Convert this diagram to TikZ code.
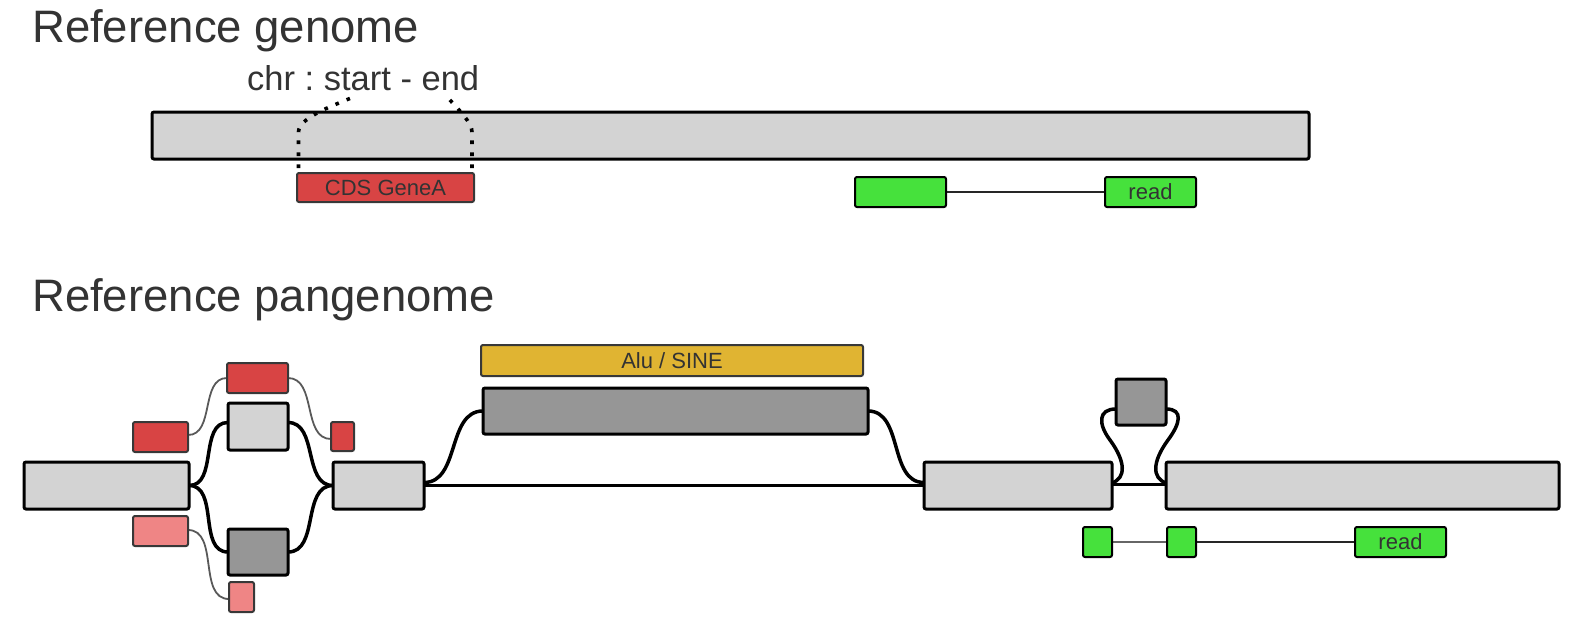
\documentclass[tikz,border=0pt]{standalone}
\usepackage{fontspec}
\setmainfont{Liberation Sans}
\usetikzlibrary{calc}
\definecolor{lgray}{HTML}{D3D3D3}
\definecolor{dgray}{HTML}{969696}
\definecolor{redc}{HTML}{D84444}
\definecolor{pinkc}{HTML}{EF8585}
\definecolor{greenc}{HTML}{46E13C}
\definecolor{goldc}{HTML}{E0B432}
\definecolor{txt}{HTML}{333333}
\pgfdeclarelayer{bottom}
\pgfdeclarelayer{background}
\pgfsetlayers{bottom,background,main}
\frenchspacing
\begin{document}
\begin{tikzpicture}[x=1pt,y=-1pt,
  bx/.style={rectangle, rounded corners=2pt, inner sep=0pt, outer sep=0pt, text=txt, font=\fontsize{22}{26}\selectfont},
  sz/.style 2 args={minimum width=#1, minimum height=#2},
  seg/.style={bx, draw=black, line width=3pt, fill=lgray},
  dseg/.style={seg, fill=dgray},
  ann/.style={bx, draw=black!78, line width=2pt},
  redbox/.style={ann, fill=redc},
  pinkbox/.style={ann, fill=pinkc},
  alubox/.style={ann, fill=goldc},
  greenbox/.style={bx, draw=black, line width=2pt, fill=greenc},
  title/.style={anchor=base west, inner sep=0pt, text=txt, font=\fontsize{45.5}{54}\selectfont},
  conn/.style={line width=3.5pt, draw=black},
  thinc/.style={line width=1.8pt, draw=black!65},
  linec/.style={line width=2pt, draw=black!85},
  dotc/.style={line width=3.6pt, draw=black, dash pattern=on 3.6pt off 8.4pt, dash phase=7pt}
]
\begin{pgfonlayer}{bottom}
\fill[white] (0,0) rectangle (1591,635);
\end{pgfonlayer}
\useasboundingbox (0,0) rectangle (1591,635);

% ---------- Reference genome ----------
\node[title] (t1) at (32,42.6) {Reference genome};
\node[title, font=\fontsize{34.5}{40}\selectfont] (loc) at (247,90) {chr : start - end};

\node[seg, sz={1157pt}{47pt}] (bar) at (730.5,135.5) {};
\node[redbox, sz={177pt}{29pt}] (cds) at (385.5,187.5) {CDS GeneA};
\node[greenbox, sz={91pt}{30pt}] (rd1) at (900.5,192) {};
\node[greenbox, sz={91pt}{30pt}] (rd2) at (1150.5,192) {read};

\coordinate (ds) at (351,98);
\coordinate (de) at (449,99);
\draw[dotc] ([xshift=1.5pt]cds.north west) -- ++(0,-41) .. controls +(0,-14) and +(-19,8) .. (ds);
\draw[dotc] ([xshift=-2pt]cds.north east) -- ++(0,-41) .. controls +(0,-9) and +(11,12) .. (de);

% ---------- Reference pangenome ----------
\node[title] (t2) at (32,311.5) {Reference pangenome};

\node[alubox, sz={382pt}{31pt}] (alu) at (672,360.5) {Alu / SINE};
\node[dseg, sz={385pt}{46pt}] (dbig) at (675.5,411) {};
\node[seg, sz={165pt}{47pt}] (lb) at (106.5,485.5) {};
\node[seg, sz={91pt}{47pt}] (s2) at (378.5,485.5) {};
\node[seg, sz={188pt}{47pt}] (r1) at (1018,485.5) {};
\node[seg, sz={393pt}{47pt}] (r2) at (1362.5,485.5) {};
\node[dseg, sz={50pt}{46pt}] (lp) at (1141,402) {};
\node[seg, sz={60pt}{47pt}] (lg) at (258,426.5) {};
\node[dseg, sz={60pt}{46pt}] (dg) at (258,552) {};

\node[redbox, sz={55pt}{30pt}] (rl) at (160.5,437) {};
\node[redbox, sz={61pt}{30pt}] (tr) at (257.5,378) {};
\node[redbox, sz={23pt}{29pt}] (sr) at (342.5,436.5) {};
\node[pinkbox, sz={55pt}{30pt}] (pl) at (160.5,531) {};
\node[pinkbox, sz={25pt}{30pt}] (pb) at (241.5,597) {};

\node[greenbox, sz={29pt}{30pt}] (g1) at (1097.5,542) {};
\node[greenbox, sz={29pt}{30pt}] (g2) at (1181.5,542) {};
\node[greenbox, sz={91pt}{30pt}] (rd3) at (1400.5,542) {read};

\coordinate (lm) at (1110,440);
\coordinate (rm) at (1168,440);

\begin{pgfonlayer}{background}
\draw[conn] (lb.east) to[out=0,in=180] ([yshift=4pt]lg.west);
\draw[conn] (lb.east) to[out=0,in=180] (dg.west);
\draw[conn] ([yshift=4pt]lg.east) to[out=0,in=180] (s2.west);
\draw[conn] (dg.east) to[out=0,in=180] (s2.west);
\draw[thinc] ([yshift=2pt]rl.east) to[out=0,in=180] (tr.west);
\draw[thinc] (tr.east) to[out=0,in=180] ([yshift=-2.5pt]sr.west);
\draw[thinc] ([yshift=1pt]pl.east) to[out=0,in=180] ([yshift=-2pt]pb.west);
\draw[conn] (s2.east) -- (r1.west);
\draw[conn] ([yshift=3pt]s2.east) to[out=0,in=180] (dbig.west);
\draw[conn] (dbig.east) to[out=0,in=180] ([yshift=3pt]r1.west);
\draw[conn] ([yshift=1pt]r1.east) -- ([yshift=1pt]r2.west);
\draw[conn] ([yshift=2.5pt]r1.east) .. controls +(14,-5) and +(16,22) .. (lm)
  .. controls +(-12,-16) and +(-18,0) .. ([yshift=-7pt]lp.west);
\draw[conn] ([yshift=2.5pt]r2.west) .. controls +(-14,-5) and +(-16,22) .. (rm)
  .. controls +(12,-16) and +(18,0) .. ([yshift=-7pt]lp.east);
\draw[linec] (rd1.east) -- (rd2.west);
\draw[linec, draw=black!60] (g1.east) -- (g2.west);
\draw[linec] (g2.east) -- (rd3.west);
\end{pgfonlayer}
\end{tikzpicture}
\end{document}
